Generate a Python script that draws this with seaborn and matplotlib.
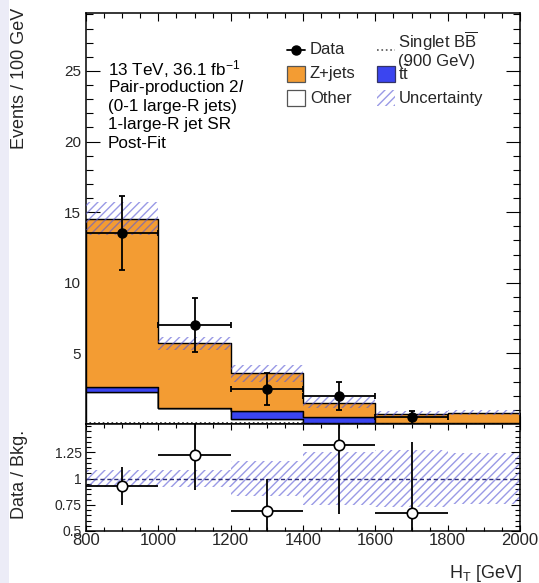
import numpy as np
import pandas as pd
import matplotlib
matplotlib.use("Agg")
import matplotlib.pyplot as plt
import seaborn as sns
from matplotlib.ticker import MultipleLocator, FixedLocator
from matplotlib.patches import Rectangle

# ---- binning and yields (events per 100 GeV, post-fit) ----
bin_edges = [800, 1000, 1200, 1400, 1600, 1800, 2000]
bin_centers = [900, 1100, 1300, 1500, 1700, 1900]
other = [2.26, 1.10, 0.33, 0.10, 0.04, 0.04]
ttbar = [0.38, 0.06, 0.61, 0.37, 0.04, 0.03]
zjets = [11.91, 4.54, 2.64, 1.05, 0.62, 0.73]
bkg_rel_unc = [0.08, 0.08, 0.17, 0.25, 0.27, 0.24]
signal = [0.09, 0.06, 0.04, 0.03, 0.02, 0.01]
data = [13.5, 7.0, 2.48, 2.0, 0.47, np.nan]
data_err_lo = [2.6, 1.9, 1.14, 1.0, 0.47, np.nan]
data_err_hi = [2.65, 1.9, 1.1, 1.0, 0.475, np.nan]
bin_half_width = [100, 100, 100, 100, 100, 100]

x_ticks = [800, 1000, 1200, 1400, 1600, 1800, 2000]
main_y_ticks = [5, 10, 15, 20, 25]
ratio_y_ticks = [0.5, 0.75, 1.0, 1.25]
ratio_y_labels = ["0.5", "0.75", "1", "1.25"]

info_lines = ["13 TeV, 36.1 fb$^{-1}$", "Pair-production 2$\\mathit{l}$",
              "(0-1 large-R jets)", "1-large-R jet SR", "Post-Fit"]

colors = {"Z+jets": "#F39C33", "ttbar": "#3B45F0", "Other": "#FFFFFF"}
hatch_col = (0.36, 0.36, 0.84, 0.62)

sns.set_theme(style="ticks")
plt.rcParams["font.family"] = ["Liberation Sans", "DejaVu Sans"]
plt.rcParams["mathtext.fontset"] = "custom"
plt.rcParams["mathtext.rm"] = "Liberation Sans"
plt.rcParams["mathtext.it"] = "Liberation Sans:italic"
plt.rcParams["mathtext.bf"] = "Liberation Sans:bold"
plt.rcParams["hatch.linewidth"] = 1.0
plt.rcParams["axes.linewidth"] = 1.1

W, H = 539, 583
fig = plt.figure(figsize=(W / 100, H / 100), dpi=100)
fig.patch.set_facecolor("white")
fig.patches.append(Rectangle((0, 0), 9 / W, 1, transform=fig.transFigure,
                             facecolor="#ECECF7", edgecolor="none", zorder=-5))

ax = fig.add_axes([86 / W, 1 - 424 / H, 434 / W, 411 / H])
rax = fig.add_axes([86 / W, 1 - 531 / H, 434 / W, 107 / H], sharex=ax)

# ---- stacked backgrounds ----
df = pd.DataFrame({
    "ht": bin_centers * 3,
    "events": zjets + ttbar + other,
    "process": ["Z+jets"] * 6 + ["ttbar"] * 6 + ["Other"] * 6,
})
sns.histplot(data=df, x="ht", weights="events", hue="process",
             hue_order=["Z+jets", "ttbar", "Other"], multiple="stack",
             bins=bin_edges, element="step", fill=True, alpha=1,
             palette=colors, edgecolor="black", linewidth=1.0,
             legend=False, ax=ax)

total = np.array(zjets) + np.array(ttbar) + np.array(other)
rel = np.array(bkg_rel_unc)

ax.stairs(total * (1 + rel), bin_edges, baseline=total * (1 - rel), fill=True,
          facecolor="none", edgecolor=hatch_col, hatch="////", linewidth=0,
          zorder=3)
ax.stairs(signal, bin_edges, color="#222222", linestyle=":", linewidth=1.2,
          zorder=3)

ax.errorbar(bin_centers, data, xerr=bin_half_width,
            yerr=[data_err_lo, data_err_hi], fmt="o", color="black", ms=6.5,
            elinewidth=1.3, capsize=2.5, capthick=1.3, zorder=5)

ax.set_xlim(800, 2000)
ax.set_ylim(0, 29.1)
ax.set_xlabel("")
ax.set_ylabel("")
ax.yaxis.set_major_locator(FixedLocator(main_y_ticks))
ax.yaxis.set_minor_locator(MultipleLocator(1))
ax.xaxis.set_major_locator(FixedLocator(x_ticks))
ax.xaxis.set_minor_locator(MultipleLocator(50))
ax.tick_params(axis="both", which="both", direction="in", top=True,
               right=True, width=0.8, color="black")
ax.tick_params(axis="x", which="major", length=6, labelbottom=False)
ax.tick_params(axis="x", which="minor", length=3.5)
ax.tick_params(axis="y", which="major", length=10, labelsize=11, pad=3.5)
ax.tick_params(axis="y", which="minor", length=5)
for s in ax.spines.values():
    s.set_color("black")
    s.set_visible(True)

# ---- annotation block ----
for i, line in enumerate(info_lines):
    ax.text(0.05, 0.864 - i * 0.0455, line, transform=ax.transAxes,
            fontsize=12.3, ha="left", va="center", color="black")

# ---- legend ----
tr = ax.transAxes
c1, c2, hw = 0.463, 0.671, 0.042
rows = [0.910, 0.852, 0.793]
bh = 0.039
ax.plot([c1, c1 + hw], [rows[0], rows[0]], transform=tr, color="black", lw=1.3)
ax.plot([c1 + hw / 2], [rows[0]], "o", transform=tr, color="black", ms=6.5)
ax.text(c1 + hw + 0.011, rows[0], "Data", transform=tr, fontsize=12, va="center")
ax.add_patch(Rectangle((c1, rows[1] - bh / 2), hw, bh, transform=tr,
                       facecolor=colors["Z+jets"], edgecolor="#555555", lw=0.9))
ax.text(c1 + hw + 0.011, rows[1], "Z+jets", transform=tr, fontsize=12, va="center")
ax.add_patch(Rectangle((c1, rows[2] - bh / 2), hw, bh, transform=tr,
                       facecolor="white", edgecolor="#555555", lw=0.9))
ax.text(c1 + hw + 0.011, rows[2], "Other", transform=tr, fontsize=12, va="center")

ax.plot([c2, c2 + hw], [rows[0], rows[0]], transform=tr, color="#555555",
        lw=1.2, ls=":")
ax.text(c2 + hw + 0.007, rows[0] + 0.002, "Singlet B$\\overline{\\mathrm{B}}$\n(900 GeV)",
        transform=tr, fontsize=12, va="center", linespacing=1.05)
ax.add_patch(Rectangle((c2, rows[1] - bh / 2), hw, bh, transform=tr,
                       facecolor=colors["ttbar"], edgecolor="#333366", lw=0.9))
ax.text(c2 + hw + 0.007, rows[1], "t$\\bar{\\mathrm{t}}$", transform=tr,
        fontsize=12, va="center")
ax.add_patch(Rectangle((c2, rows[2] - bh / 2), hw, bh, transform=tr,
                       facecolor="none", edgecolor=hatch_col, hatch="////", lw=0))
ax.text(c2 + hw + 0.007, rows[2], "Uncertainty", transform=tr, fontsize=12,
        va="center")

# ---- ratio panel ----
ratio = np.array(data) / total
ratio_lo = np.array(data_err_lo) / total
ratio_hi = np.array(data_err_hi) / total

rax.stairs(1 + rel, bin_edges, baseline=1 - rel, fill=True, facecolor="none",
           edgecolor=hatch_col, hatch="////", linewidth=0, zorder=1)
rax.axhline(1.0, color="#2E2E7A", linestyle=(0, (3, 2)), linewidth=1.0, zorder=2)
rax.errorbar(bin_centers, ratio, xerr=bin_half_width, yerr=[ratio_lo, ratio_hi],
             fmt="o", color="black", mfc="white", mec="black", mew=1.2, ms=7.5,
             elinewidth=1.3, capsize=0, zorder=5)

rax.set_xlim(800, 2000)
rax.set_ylim(0.5, 1.52)
rax.set_xlabel("")
rax.set_ylabel("")
rax.yaxis.set_major_locator(FixedLocator(ratio_y_ticks))
rax.set_yticklabels(ratio_y_labels)
rax.yaxis.set_minor_locator(MultipleLocator(0.05))
rax.xaxis.set_major_locator(FixedLocator(x_ticks))
rax.xaxis.set_minor_locator(MultipleLocator(50))
rax.tick_params(axis="both", which="both", direction="in", top=True,
                right=True, width=0.8, color="black")
rax.tick_params(axis="x", which="major", length=4.5, labelsize=12, pad=1.5)
rax.tick_params(axis="x", which="minor", length=3)
rax.tick_params(axis="y", which="major", length=6.5, labelsize=10, pad=3)
rax.tick_params(axis="y", which="minor", length=3.5)
for s in rax.spines.values():
    s.set_color("black")
    s.set_visible(True)

# ---- axis titles ----
fig.text(20 / W, 1 - 8 / H, "Events / 100 GeV", rotation=90, ha="center",
         va="top", fontsize=13)
fig.text(20 / W, 1 - 474 / H, "Data / Bkg.", rotation=90, ha="center",
         va="center", fontsize=13)
fig.text(522 / W, 1 - 573 / H, "H$_{\\mathrm{T}}$ [GeV]", ha="right",
         va="center", fontsize=13)

fig.savefig("out.png", dpi=100)
